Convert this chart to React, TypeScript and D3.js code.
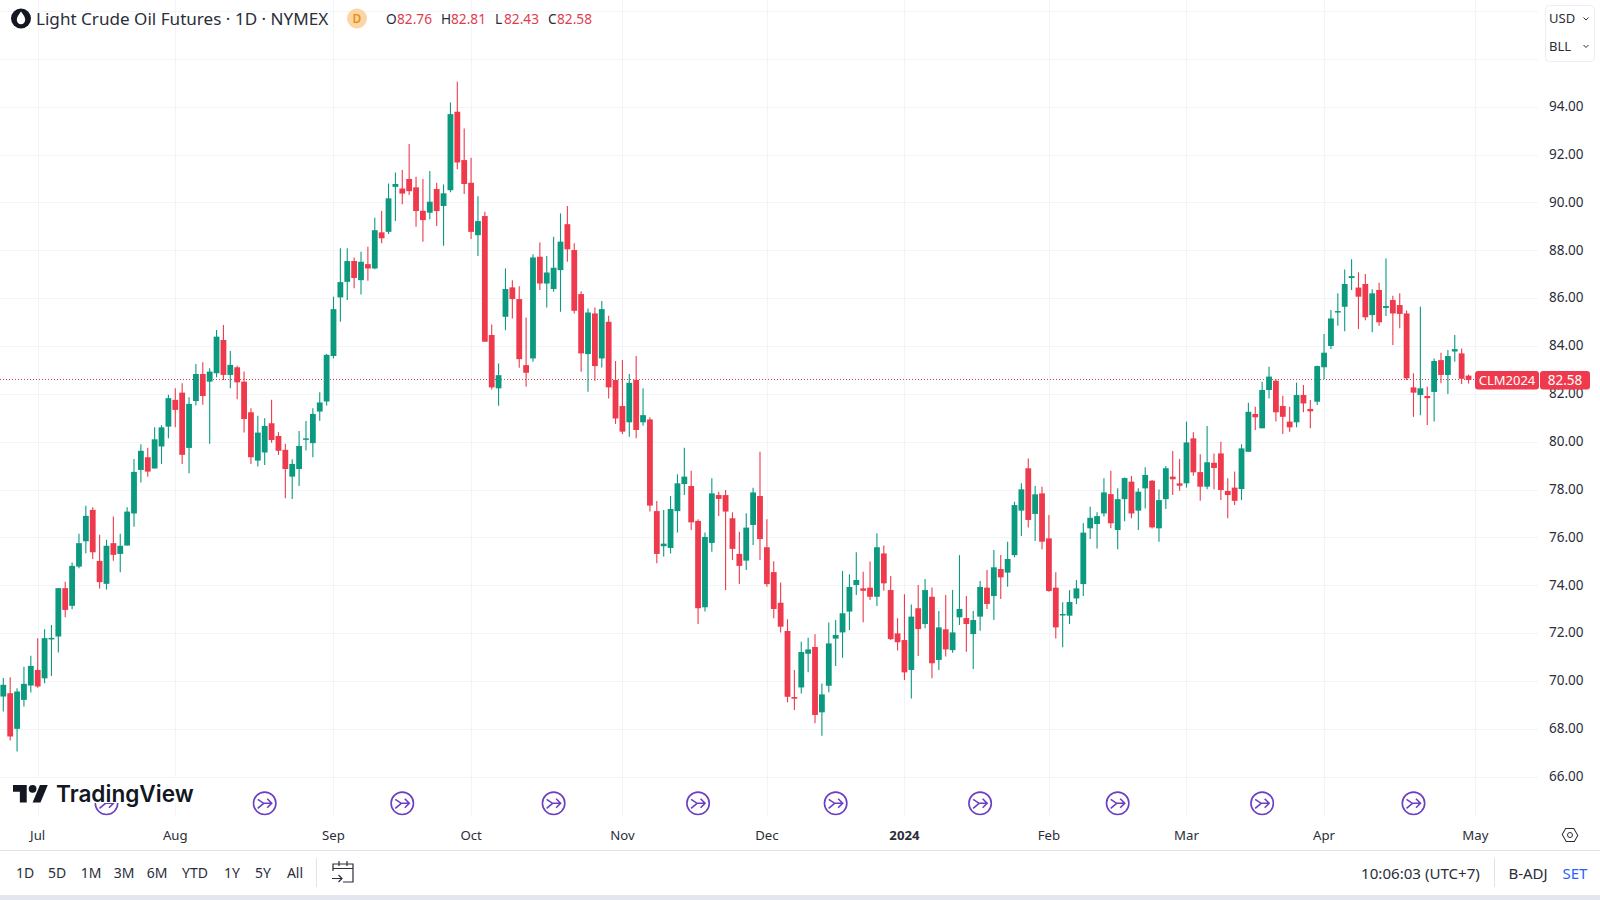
import React, { useEffect, useRef } from 'react';
import * as d3 from 'd3';

// Light Crude Oil Futures daily bars
const opens = [
  69.35, 69.49, 68.0, 69.21, 69.81, 70.46, 70.11, 71.76, 71.86, 73.88,
  73.14, 74.78, 75.84, 77.15, 75.02, 74.06, 75.76, 75.31, 75.66, 77.0,
  78.82, 79.35, 78.88, 79.8, 80.63, 81.75, 82.05, 79.74, 81.7, 82.83,
  82.51, 82.86, 84.25, 82.79, 83.11, 82.51, 81.23, 79.21, 79.55, 80.77,
  80.24, 79.66, 78.54, 78.86, 80.1, 79.94, 81.26, 81.68, 83.58, 86.03,
  86.68, 87.55, 86.75, 87.42, 87.24, 88.75, 88.77, 90.65, 90.58, 90.98,
  90.63, 89.65, 89.57, 90.56, 89.85, 90.51, 93.79, 91.77, 90.82, 88.63,
  89.43, 84.46, 82.23, 85.22, 86.45, 85.96, 83.2, 83.48, 87.73, 86.61,
  86.38, 87.17, 89.09, 88.01, 86.17, 83.66, 85.36, 83.48, 85.01, 82.58,
  81.49, 80.81, 82.58, 80.81, 80.93, 77.1, 75.63, 75.56, 77.1, 78.23,
  78.15, 76.69, 73.08, 75.77, 77.77, 77.77, 76.8, 75.31, 75.03, 76.52,
  77.73, 75.59, 74.55, 73.27, 72.09, 69.33, 69.73, 71.14, 71.42, 68.69,
  69.8, 71.77, 72.03, 72.9, 74.01, 73.87, 73.9, 73.52, 75.33, 73.8,
  71.99, 71.71, 70.46, 73.04, 72.38, 73.52, 70.88, 72.16, 71.29, 72.66,
  72.63, 71.96, 72.69, 73.9, 73.55, 74.68, 74.53, 75.26, 77.12, 78.89,
  76.98, 77.84, 75.96, 73.9, 72.76, 72.73, 73.45, 74.05, 76.38, 76.56,
  77.0, 77.81, 76.31, 77.6, 78.33, 77.12, 78.05, 78.37, 76.38, 77.6,
  78.54, 78.26, 78.26, 80.14, 78.73, 78.12, 79.12, 79.51, 77.94, 78.08,
  78.02, 79.58, 81.16, 80.56, 82.16, 82.55, 81.49, 80.84, 80.81, 81.95,
  81.37, 81.67, 83.11, 84.0, 85.42, 85.64, 86.84, 86.44, 86.59, 85.29,
  86.34, 85.59, 85.92, 85.71, 85.36, 82.27, 81.95, 81.91, 82.08, 83.41,
  82.79, 83.77, 83.69, 82.76,
];
const highs = [
  70.12, 70.16, 69.7, 70.6, 71.05, 71.79, 72.16, 72.34, 73.88, 74.15,
  74.95, 76.15, 77.32, 77.26, 76.11, 75.9, 76.87, 76.15, 77.26, 79.28,
  79.89, 79.75, 80.6, 80.69, 81.96, 82.23, 82.44, 81.86, 83.25, 83.32,
  83.07, 84.67, 84.88, 83.79, 83.17, 82.93, 81.4, 81.08, 80.98, 81.75,
  80.4, 79.91, 79.27, 80.45, 80.87, 81.4, 82.07, 83.67, 86.06, 88.08,
  88.08, 87.7, 87.94, 88.15, 89.36, 89.64, 90.79, 91.25, 91.35, 92.44,
  91.07, 90.98, 91.31, 90.82, 90.75, 94.18, 95.04, 93.09, 91.87, 90.26,
  89.61, 84.9, 83.27, 87.24, 86.75, 86.5, 85.19, 87.83, 88.33, 87.76,
  88.56, 89.54, 89.85, 88.29, 86.29, 85.57, 85.61, 85.88, 85.26, 83.37,
  83.41, 82.83, 83.58, 82.23, 81.02, 77.52, 77.15, 77.73, 78.64, 79.75,
  78.79, 76.76, 76.21, 78.47, 77.91, 77.98, 77.05, 76.24, 77.01, 78.08,
  79.58, 76.76, 75.0, 74.12, 72.58, 70.46, 71.64, 71.81, 71.95, 69.9,
  72.44, 72.55, 74.6, 74.46, 75.38, 74.57, 74.99, 76.17, 75.66, 74.39,
  72.62, 73.63, 73.2, 74.01, 74.26, 73.91, 72.92, 73.59, 73.8, 75.26,
  73.55, 72.92, 74.18, 74.64, 75.47, 75.26, 75.82, 77.49, 78.26, 79.3,
  78.15, 78.12, 76.94, 74.54, 73.29, 73.8, 74.22, 76.59, 77.28, 77.05,
  78.47, 78.79, 78.05, 78.5, 78.57, 78.05, 78.93, 78.4, 78.0, 78.98,
  79.61, 79.28, 80.84, 80.39, 79.48, 80.66, 79.51, 80.0, 78.47, 78.75,
  79.89, 81.63, 81.46, 82.51, 83.13, 82.62, 81.92, 81.46, 82.47, 82.37,
  81.74, 83.18, 84.5, 85.5, 86.2, 87.2, 87.63, 87.08, 87.01, 86.37,
  86.64, 87.66, 86.1, 86.2, 85.48, 82.86, 85.64, 82.3, 83.48, 83.72,
  83.83, 84.46, 83.9, 82.81,
];
const lows = [
  68.72, 67.51, 67.05, 68.93, 69.52, 69.72, 69.91, 70.21, 71.19, 72.66,
  73.0, 74.71, 75.34, 75.1, 73.86, 73.82, 75.03, 74.54, 75.66, 76.45,
  78.29, 78.54, 78.88, 79.07, 80.14, 80.6, 79.07, 78.68, 81.51, 81.54,
  79.91, 82.69, 82.58, 82.23, 81.77, 80.38, 79.07, 78.96, 79.03, 79.96,
  79.45, 77.64, 77.61, 78.15, 79.63, 79.35, 80.88, 81.51, 83.48, 85.01,
  85.92, 86.41, 86.15, 86.73, 87.21, 88.29, 88.68, 89.22, 89.92, 90.31,
  88.98, 88.36, 89.3, 89.01, 88.19, 90.42, 91.39, 90.35, 88.47, 87.76,
  84.18, 82.18, 81.5, 84.66, 85.15, 83.09, 82.3, 83.34, 86.34, 85.61,
  86.27, 85.43, 87.52, 85.36, 82.92, 82.09, 82.55, 83.1, 81.81, 80.74,
  80.32, 80.21, 80.14, 80.67, 77.08, 74.92, 75.2, 75.33, 76.21, 77.77,
  76.31, 72.38, 72.9, 75.4, 76.89, 73.8, 75.06, 74.05, 74.64, 75.68,
  75.06, 73.94, 72.62, 72.03, 69.11, 68.79, 69.48, 70.36, 68.23, 67.71,
  69.53, 70.63, 70.97, 72.13, 73.59, 72.45, 73.38, 73.13, 73.77, 71.71,
  71.27, 70.04, 69.27, 71.04, 72.2, 70.11, 70.46, 71.02, 71.18, 72.34,
  71.22, 70.5, 72.1, 73.01, 72.55, 73.43, 73.94, 75.17, 76.06, 76.41,
  75.85, 75.51, 73.73, 71.78, 71.41, 72.38, 73.22, 73.55, 75.93, 75.54,
  76.87, 76.38, 75.51, 76.68, 76.8, 76.31, 77.21, 76.37, 75.82, 77.19,
  77.77, 77.95, 78.08, 78.58, 77.53, 78.01, 78.01, 77.56, 76.8, 77.35,
  77.56, 79.58, 80.49, 80.56, 81.81, 80.84, 80.32, 80.42, 80.6, 81.23,
  80.56, 81.53, 82.62, 83.87, 84.85, 84.62, 86.34, 84.71, 85.08, 84.57,
  84.85, 85.25, 84.04, 84.74, 82.58, 81.04, 81.11, 80.7, 80.84, 82.44,
  81.99, 83.34, 82.41, 82.43,
];
const closes = [
  69.84, 67.68, 69.56, 69.88, 70.63, 69.77, 71.79, 71.8, 73.88, 72.97,
  74.81, 75.76, 76.9, 75.38, 74.13, 75.65, 75.27, 75.65, 77.08, 78.74,
  79.62, 78.75, 80.1, 80.6, 81.82, 81.33, 79.45, 81.58, 82.83, 81.91,
  82.93, 84.39, 82.79, 83.21, 82.48, 80.95, 79.35, 80.38, 80.66, 80.07,
  79.62, 78.86, 79.07, 79.82, 80.14, 81.16, 81.64, 83.63, 85.54, 86.67,
  87.55, 86.84, 87.52, 87.24, 88.84, 88.5, 90.17, 90.77, 90.37, 90.47,
  89.64, 89.26, 90.03, 89.64, 90.38, 93.69, 91.67, 90.77, 88.77, 89.22,
  84.18, 82.27, 82.78, 86.38, 85.96, 83.45, 82.88, 87.7, 86.61, 87.07,
  87.27, 88.36, 88.04, 85.47, 83.69, 85.4, 83.16, 85.54, 82.27, 80.97,
  80.42, 82.46, 80.49, 81.11, 77.33, 75.31, 75.74, 77.19, 78.26, 78.54,
  76.63, 73.04, 76.02, 77.84, 77.61, 77.08, 75.52, 74.81, 76.41, 77.88,
  75.93, 74.05, 73.01, 72.27, 69.34, 69.26, 71.21, 71.32, 68.58, 69.44,
  71.57, 71.92, 72.83, 73.93, 74.22, 73.77, 73.52, 75.59, 74.08, 71.75,
  71.62, 70.36, 72.69, 72.17, 73.8, 70.74, 72.24, 71.32, 72.03, 73.01,
  72.38, 72.55, 73.93, 73.22, 74.75, 74.33, 75.1, 77.35, 78.01, 76.73,
  77.8, 75.82, 73.76, 72.24, 72.8, 73.3, 73.87, 76.2, 76.82, 76.89,
  77.88, 76.59, 77.6, 78.48, 77.0, 77.91, 78.61, 76.42, 77.56, 78.89,
  78.43, 78.16, 79.97, 78.72, 78.12, 79.14, 78.9, 77.98, 77.77, 77.53,
  79.72, 81.25, 81.02, 82.16, 82.72, 81.23, 81.04, 80.6, 81.95, 81.6,
  81.27, 83.16, 83.72, 85.15, 85.46, 86.59, 86.92, 86.06, 85.2, 86.2,
  84.99, 85.67, 85.36, 85.34, 82.65, 82.05, 82.23, 81.82, 83.37, 82.79,
  83.58, 83.87, 82.63, 82.58,
];

const priceTicks = [66, 68, 70, 72, 74, 76, 78, 80, 82, 84, 86, 88, 90, 92, 94, 96, 98];
const monthLabels = ['Jul', 'Aug', 'Sep', 'Oct', 'Nov', 'Dec', '2024', 'Feb', 'Mar', 'Apr', 'May'];
const monthBars = [5, 25, 48, 68, 90, 111, 131, 152, 172, 192, 214];
const eventBars = [15, 38, 58, 80, 101, 121, 142, 162, 183, 205];
const ranges = ['1D', '5D', '1M', '3M', '6M', 'YTD', '1Y', '5Y', 'All'];
const rangeX = [25, 57, 91, 124, 157, 195, 232, 263, 295];
const lastPrice = 82.58;

const UP = '#0b9a80';
const DOWN = '#ee3a4c';
const TEXT = '#131722';
const LABEL = '#2a2e39';
const GRID = '#f3f4f7';
const PURPLE = '#6a3fc4';
const FONT = '"Noto Sans", sans-serif';

const App: React.FC = () => {
  const ref = useRef<SVGSVGElement>(null);

  useEffect(() => {
    if (!ref.current) return;
    const svg = d3.select(ref.current);
    svg.selectAll('*').remove();

    const plotRight = 1538;
    const plotBottom = 817;

    const x = d3.scaleLinear().domain([5, 214]).range([37.7, 1475.4]);
    const y = d3.scaleLinear().domain([66, 94]).range([776.7, 106.7]);

    // Grid
    const grid = svg.append('g').attr('stroke', GRID).attr('stroke-width', 1);
    priceTicks.forEach(t => {
      grid.append('line').attr('x1', 0).attr('x2', plotRight)
        .attr('y1', Math.round(y(t)) + 0.5).attr('y2', Math.round(y(t)) + 0.5);
    });
    monthBars.forEach(b => {
      grid.append('line').attr('y1', 0).attr('y2', plotBottom)
        .attr('x1', Math.round(x(b)) + 0.5).attr('x2', Math.round(x(b)) + 0.5);
    });

    // Last price line
    svg.append('line')
      .attr('x1', 0).attr('x2', plotRight)
      .attr('y1', Math.floor(y(lastPrice)) + 0.5).attr('y2', Math.floor(y(lastPrice)) + 0.5)
      .attr('stroke', '#c9404f').attr('stroke-width', 1).attr('stroke-dasharray', '1 2');

    // Candles
    const candles = svg.append('g');
    closes.forEach((c, i) => {
      const o = opens[i];
      const color = c >= o ? UP : DOWN;
      const cx = x(i);
      candles.append('line')
        .attr('x1', cx).attr('x2', cx)
        .attr('y1', y(highs[i])).attr('y2', y(lows[i]))
        .attr('stroke', color).attr('stroke-width', 1.1);
      const top = y(Math.max(o, c));
      const h = Math.max(y(Math.min(o, c)) - top, 1.5);
      candles.append('rect')
        .attr('x', cx - 2.9).attr('width', 5.8)
        .attr('y', top).attr('height', h)
        .attr('fill', color);
    });

    // Event markers
    eventBars.forEach(b => {
      const g = svg.append('g').attr('transform', `translate(${x(b)},803.3)`)
        .attr('fill', 'none').attr('stroke', PURPLE).attr('stroke-width', 1.6);
      g.append('circle').attr('r', 11.2).attr('fill', '#fff');
      g.append('path').attr('d', 'M-7,-4 L-1,0 L7,0 M-7,5 L-1,0 M2.5,-4.5 L7,0 L2.5,4.5');
    });

    // TradingView logo
    svg.append('rect').attr('x', 10).attr('y', 778).attr('width', 188).attr('height', 25).attr('fill', '#fff');
    svg.append('path')
      .attr('transform', 'translate(13,781) scale(0.98)')
      .attr('d', 'M14 22H7V11H0V4h14v18zM28 22h-8l7.5-18h8L28 22z')
      .attr('fill', TEXT);
    svg.append('circle').attr('cx', 13 + 20 * 0.98).attr('cy', 781 + 8 * 0.98).attr('r', 3.9).attr('fill', TEXT);
    svg.append('text').attr('x', 56).attr('y', 802)
      .attr('font-family', 'Inter, sans-serif').attr('font-size', 22.6).attr('font-weight', 600)
      .attr('fill', TEXT).text('TradingView');

    const label = (tx: number, ty: number, s: string, size: number, fill = TEXT, anchor = 'start') =>
      svg.append('text').attr('x', tx).attr('y', ty)
        .attr('font-family', FONT).attr('font-size', size).attr('fill', fill)
        .attr('text-anchor', anchor).attr('dominant-baseline', 'central').text(s);

    // Header
    svg.append('circle').attr('cx', 21).attr('cy', 18.5).attr('r', 10).attr('fill', TEXT);
    svg.append('path').attr('d', 'M21,11.5 C24,15.5 25.2,17.5 25.2,20 A4.2,4.2 0 0 1 16.8,20 C16.8,17.5 18,15.5 21,11.5Z').attr('fill', '#fff');
    label(36, 18, 'Light Crude Oil Futures · 1D · NYMEX', 17.1, LABEL);
    svg.append('circle').attr('cx', 357).attr('cy', 18.5).attr('r', 10).attr('fill', '#fbd6a2');
    label(357, 18.5, 'D', 12, '#e58f1c', 'middle').attr('font-weight', 600);
    const ohlcKeys = ['O', 'H', 'L', 'C'];
    const ohlcKeyX = [386, 441, 495, 548];
    const ohlcValX = [397, 451, 504, 557];
    const ohlcVals = [opens[213], highs[213], lows[213], closes[213]];
    ohlcKeys.forEach((k, i) => {
      label(ohlcKeyX[i], 18, k, 13.7, LABEL);
      label(ohlcValX[i], 18, ohlcVals[i].toFixed(2), 13.7, '#df3c4e');
    });

    // Currency / unit box
    svg.append('rect').attr('x', 1545.5).attr('y', 5.5).attr('width', 49).attr('height', 56).attr('rx', 4)
      .attr('fill', '#fff').attr('stroke', '#eceef2');
    ['USD', 'BLL'].forEach((s, i) => {
      const ly = i === 0 ? 18 : 45.5;
      label(1549, ly, s, 13, LABEL);
      svg.append('path').attr('d', `M1583.5,${ly - 0.5} l2.5,2.5 l2.5,-2.5`).attr('fill', 'none').attr('stroke', LABEL);
    });

    // Price axis
    priceTicks.filter(t => t <= 94).forEach(t => {
      label(1549, y(t) - 0.7, t.toFixed(2), 13.5, LABEL);
    });

    // Last price tag
    svg.append('rect').attr('x', 1475).attr('y', 371).attr('width', 64).attr('height', 18.5).attr('rx', 3).attr('fill', DOWN);
    svg.append('rect').attr('x', 1540).attr('y', 371).attr('width', 50).attr('height', 18.5).attr('rx', 3).attr('fill', DOWN);
    label(1507, 380, 'CLM2024', 13, '#fff', 'middle');
    label(1565, 380, lastPrice.toFixed(2), 13.5, '#fff', 'middle');

    // Time axis
    monthLabels.forEach((m, i) => {
      const t = label(x(monthBars[i]), 834.5, m, 13.2, LABEL, 'middle');
      if (m === '2024') t.attr('font-weight', 700);
    });
    svg.append('path')
      .attr('d', 'M1570,827.5 L1577,831.5 L1577,838.5 L1570,842.5 L1563,838.5 L1563,831.5Z')
      .attr('transform', 'rotate(30 1570 835)')
      .attr('fill', 'none').attr('stroke', LABEL).attr('stroke-width', 1);
    svg.append('circle').attr('cx', 1570).attr('cy', 835).attr('r', 2.5).attr('fill', 'none').attr('stroke', LABEL);
    svg.append('line').attr('x1', 0).attr('x2', 1600).attr('y1', 850.5).attr('y2', 850.5).attr('stroke', '#e0e3eb');

    // Bottom toolbar
    ranges.forEach((r, i) => label(rangeX[i], 872.5, r, 14, LABEL, 'middle'));
    svg.append('line').attr('x1', 316.5).attr('x2', 316.5).attr('y1', 858).attr('y2', 887).attr('stroke', '#e0e3eb');
    svg.append('path')
      .attr('d', 'M333,871 V864 H353 V882 H343 M333,868.5 H353 M339,861 V866 M347,861 V866 M332,878.5 H342 M338.5,875 L342,878.5 L338.5,882')
      .attr('fill', 'none').attr('stroke', LABEL).attr('stroke-width', 1.2);
    label(1420.5, 872.5, '10:06:03 (UTC+7)', 15.1, LABEL, 'middle');
    svg.append('line').attr('x1', 1494.5).attr('x2', 1494.5).attr('y1', 858).attr('y2', 887).attr('stroke', '#e0e3eb');
    label(1528, 872.5, 'B-ADJ', 15, LABEL, 'middle');
    label(1575, 872.5, 'SET', 15, '#2962ff', 'middle');
    svg.append('rect').attr('x', 0).attr('y', 895).attr('width', 1600).attr('height', 5).attr('fill', '#e3e6ee');
  }, []);

  return (
    <svg
      ref={ref}
      width={1600}
      height={900}
      style={{ position: 'absolute', left: 0, top: 0, background: '#fff' }}
    />
  );
};

export default App;
